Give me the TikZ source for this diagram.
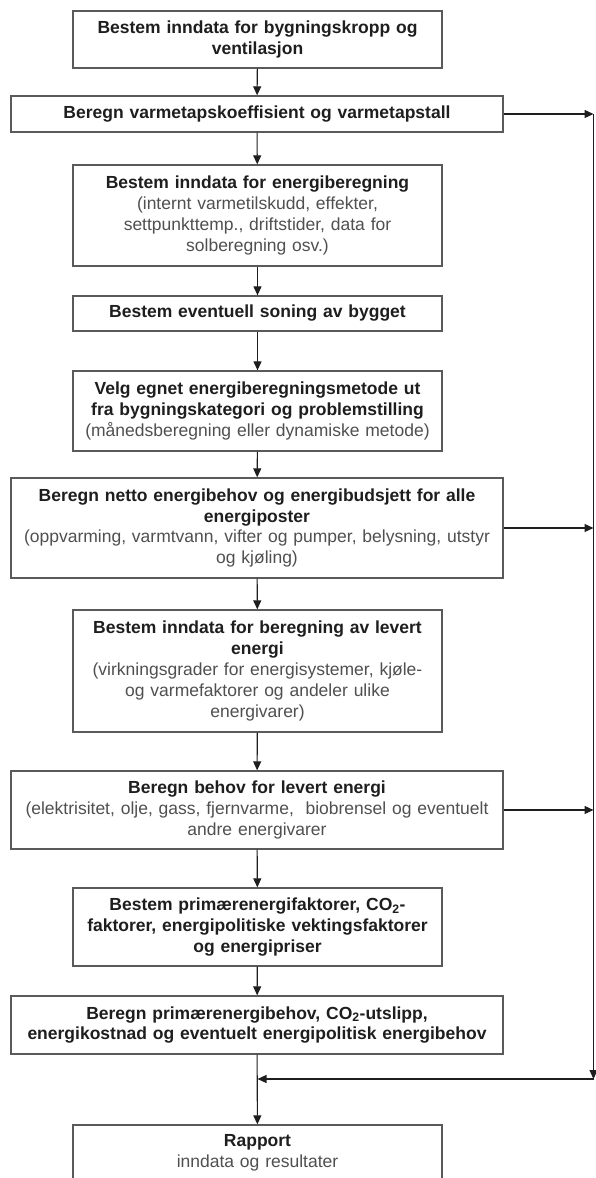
\documentclass[tikz,border=0pt]{standalone}
\usepackage{fontspec}
\setmainfont{Liberation Sans}
\usetikzlibrary{arrows.meta}

\definecolor{boxline}{HTML}{5A5A5A}
\definecolor{darktext}{HTML}{1E1E1E}
\definecolor{softtext}{HTML}{505050}

\tikzset{every picture/.style={line width=1.3pt}}
\tikzset{
  stepbox/.style={draw=boxline, fill=white, align=center, inner sep=2pt, text=softtext,
    font=\fontsize{17.5}{20.8}\selectfont},
  narrow/.style={stepbox, minimum width=369, text width=360},
  wide/.style={stepbox, minimum width=492, text width=484},
  flow/.style={draw=darktext, line width=1.1pt, -{Triangle[length=9pt,width=8pt]}},
}
\newcommand{\hd}[1]{\textbf{\color{darktext}#1}}

\begin{document}
\begin{tikzpicture}[x=1pt,y=1pt,yscale=-1,xscale=1]
\useasboundingbox (0,0) rectangle (595,1178);

% Text Node
\node (b1) at (257.5,39.5) [narrow, minimum height=57] {\hd{Bestem inndata for bygningskropp og\\ventilasjon}};
% Text Node
\node (b2) at (257,114) [wide, minimum height=36] {\hd{Beregn varmetapskoeffisient og varmetapstall}};
% Text Node
\node (b3) at (257.5,215.5) [narrow, minimum height=101] {\hd{Bestem inndata for energiberegning}\\(internt varmetilskudd, effekter,\\settpunkttemp., driftstider, data for\\solberegning osv.)};
% Text Node
\node (b4) at (257.5,313.5) [narrow, minimum height=35] {\hd{Bestem eventuell soning av bygget}};
% Text Node
\node (b5) at (257.5,411) [narrow, minimum height=80] {\hd{Velg egnet energiberegningsmetode ut\\fra bygningskategori og problemstilling}\\(månedsberegning eller dynamiske metode)};
% Text Node
\node (b6) at (257,528) [wide, minimum height=100] {\hd{Beregn netto energibehov og energibudsjett for alle\\energiposter}\\(oppvarming, varmtvann, vifter og pumper, belysning, utstyr\\og kjøling)};
% Text Node
\node (b7) at (257.5,671) [narrow, minimum height=122] {\hd{Bestem inndata for beregning av levert\\energi}\\(virkningsgrader for energisystemer, kjøle-\\og varmefaktorer og andeler ulike\\energivarer)};
% Text Node
\node (b8) at (257,810) [wide, minimum height=78] {\hd{Beregn behov for levert energi}\\(elektrisitet, olje, gass, fjernvarme,~ biobrensel og eventuelt\\andre energivarer};
% Text Node
\node (b9) at (257.5,927) [narrow, minimum height=78] {\hd{Bestem primærenergifaktorer, CO\textsubscript{2}-\\faktorer, energipolitiske vektingsfaktorer\\og energipriser}};
% Text Node
\node (b10) at (257,1025) [wide, minimum height=58] {\hd{Beregn primærenergibehov, CO\textsubscript{2}-utslipp,\\energikostnad og eventuelt energipolitisk energibehov}};
% Text Node
\node (b11) at (257.5,1153) [narrow, minimum height=56] {\hd{Rapport}\\inndata og resultater};

% side line
\coordinate (rtop) at (593.5,114);
\coordinate (rbot) at (593.5,1079);
\coordinate (merge) at (257.5,1079);

%Straight Lines
\draw [flow] (b1) -- (b2);
\draw [flow] (b2) -- (b3);
\draw [flow] (b3) -- (b4);
\draw [flow] (b4) -- (b5);
\draw [flow] (b5) -- (b6);
\draw [flow] (b6) -- (b7);
\draw [flow] (b7) -- (b8);
\draw [flow] (b8) -- (b9);
\draw [flow] (b9) -- (b10);
\draw [flow] (b10) -- (b11);

%Straight Lines
\draw [flow] (b2.east) -- (rtop);
\draw [flow] (b6.east) -- (b6.east -| rtop);
\draw [flow] (b8.east) -- (b8.east -| rtop);
\draw [flow] (rtop) -- (rbot);
\draw [flow] (rbot) -- (merge);

\end{tikzpicture}
\end{document}
